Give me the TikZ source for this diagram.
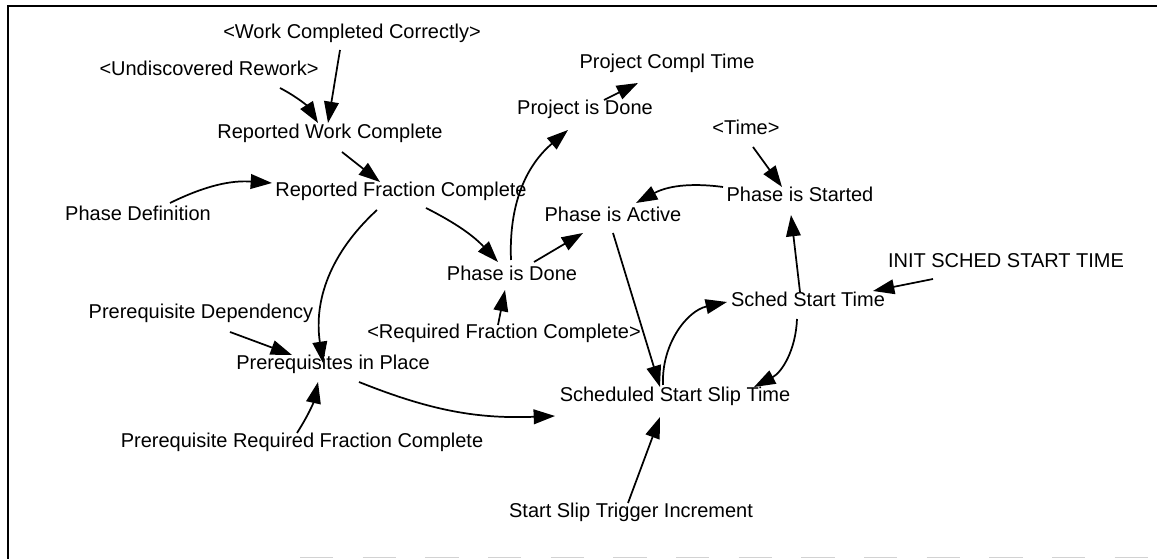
\documentclass[tikz,border=0pt]{standalone}
\usepackage{fontspec}
\setmainfont{Liberation Sans}
\usetikzlibrary{arrows.meta,calc}
\begin{document}
\begin{tikzpicture}[x=0.75pt,y=0.75pt,
  var/.style={font=\fontsize{15}{18}\selectfont, anchor=base, inner sep=0pt},
  link/.style={-{Triangle[length=16pt,width=11pt]}, line width=1.3pt},
  frameline/.style={line width=1.5pt}]
\useasboundingbox (0,0) rectangle (1157,559);
\fill[white] (0,0) rectangle (1157,559);
% frame
\draw[frameline] (1157,553) -- (8,553) -- (8,0);
\draw[gray!35, line width=1pt, dash pattern=on 25pt off 22pt] (300,1.5) -- (1157,1.5);

% variables
\node[var] (WCC) at (352,520) {<Work Completed Correctly>};
\node[var] (UR) at (209,483) {<Undiscovered Rework>};
\node[var] (PCT) at (667,490) {Project Compl Time};
\node[var] (PID) at (585,444) {Project is Done};
\node[var] (RWC) at (330,420) {Reported Work Complete};
\node[var] (Time) at (746,424) {<Time>};
\node[var] (RFC) at (401,362) {Reported Fraction Complete};
\node[var] (PiS) at (800,357) {Phase is Started};
\node[var] (PD) at (138,338) {Phase Definition};
\node[var] (PiA) at (613,337) {Phase is Active};
\node[var] (PDone) at (512,278) {Phase is Done};
\node[var] (INIT) at (1006,291) {INIT SCHED START TIME};
\node[var] (SST) at (808,252) {Sched Start Time};
\node[var] (PDep) at (201,240) {Prerequisite Dependency};
\node[var] (ReqFC) at (504,220) {<Required Fraction Complete>};
\node[var] (PiP) at (333,189) {Prerequisites in Place};
\node[var] (SSST) at (675,157) {Scheduled Start Slip Time};
\node[var] (PRFC) at (302,111) {Prerequisite Required Fraction Complete};
\node[var] (SSTI) at (631,41) {Start Slip Trigger Increment};

% links
\draw[link] ($(UR.base)+(71,-12)$) to[bend left=15] ($(RWC.base)+(-12,16)$);
\draw[link] ($(WCC.base)+(-12,-11)$) -- ($(RWC.base)+(-2,16)$);
\draw[link] ($(RWC.base)+(12,-13)$) -- ($(RFC.base)+(-21,15)$);
\draw[link] ($(PD.base)+(32,18)$) to[bend left=15] ($(RFC.base)+(-129,14)$);
\draw[link] ($(RFC.base)+(-24,-13)$) to[bend right=28] ($(PiP.base)+(-10,7)$);
\draw[link] ($(RFC.base)+(25,-11)$) to[bend left=10] ($(PDone.base)+(-14,19)$);
\draw[link] ($(PDone.base)+(-1,21)$) to[bend left=26] ($(PID.base)+(-17,-15)$);
\draw[link] ($(PID.base)+(19,15)$) -- ($(PCT.base)+(-29,-14)$);
\draw[link] ($(PDone.base)+(22,19)$) -- ($(PiA.base)+(-30,-11)$);
\draw[link] ($(PiS.base)+(-77,15)$) to[bend right=18] ($(PiA.base)+(23,19)$);
\draw[link] ($(Time.base)+(7,-12)$) -- ($(PiS.base)+(-18,15)$);
\draw[link] ($(PiA.base)+(0,-11)$) -- ($(SSST.base)+(-15,15)$);
\draw[link] ($(SSST.base)+(-12,17)$) to[bend left=40] ($(SST.base)+(-81,5)$);
\draw[link] ($(SST.base)+(-8,15)$) -- ($(PiS.base)+(-9,-13)$);
\draw[link] ($(INIT.base)+(-73,-11)$) -- ($(SST.base)+(65,16)$);
\draw[link] ($(SST.base)+(-11,-12)$) to[bend left=30] ($(SSST.base)+(79,15)$);
\draw[link] ($(PDep.base)+(29,-13)$) -- ($(PiP.base)+(-41,15)$);
\draw[link] ($(PRFC.base)+(-5,15)$) to[bend right=10] ($(PiP.base)+(-15,-12)$);
\draw[link] ($(PiP.base)+(26,-12)$) to[bend right=12] ($(SSST.base)+(-120,-14)$);
\draw[link] ($(ReqFC.base)+(-6,14)$) -- ($(PDone.base)+(-7,-9)$);
\draw[link] ($(SSTI.base)+(-3,15)$) -- ($(SSST.base)+(-15,-15)$);
\end{tikzpicture}
\end{document}
